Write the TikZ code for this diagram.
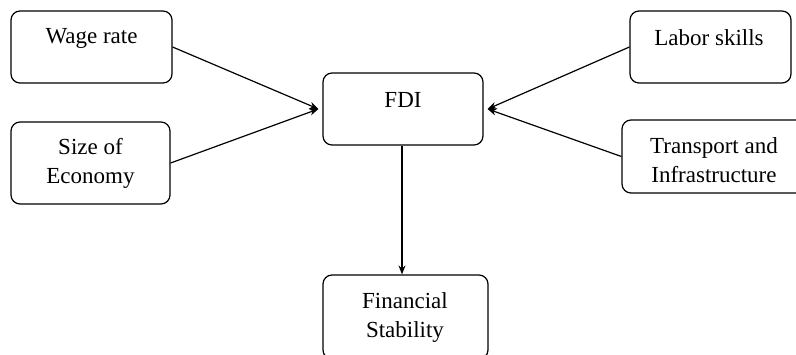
\documentclass[tikz,border=0pt]{standalone}
\usepackage{fontspec}
\setmainfont{Liberation Serif}
\usetikzlibrary{arrows.meta}
\begin{document}
\begin{tikzpicture}[x=1pt,y=-1pt,
  box/.style={draw=black, line width=1.2pt, rounded corners=9pt, inner sep=0pt},
  lbl/.style={align=center, inner sep=0pt, font=\fontsize{23}{29}\selectfont},
  link/.style={draw=black, line width=1.2pt, -{Stealth[length=9pt,width=7pt]}}]
\clip (0,0) rectangle (796,354);
% boxes
\node[box, minimum width=161pt, minimum height=72pt] (wage) at (91.5,47) {};
\node[box, minimum width=159pt, minimum height=82pt] (size) at (90.5,163) {};
\node[box, minimum width=160pt, minimum height=72pt] (fdi) at (403,109) {};
\node[box, minimum width=161pt, minimum height=72pt] (labor) at (710.5,47) {};
\node[box, minimum width=184pt, minimum height=73pt] (trans) at (714,156.5) {};
\node[box, minimum width=165pt, minimum height=84pt] (fin) at (405.5,317) {};
% labels
\node[lbl] (twage) at (91.5,38) {Wage rate};
\node[lbl] (tsize) at (90.5,163) {Size of\\Economy};
\node[lbl] (tfdi) at (403,100) {FDI};
\node[lbl] (tlabor) at (709,38) {Labor skills};
\node[lbl] (ttrans) at (714,160) {Transport and\\Infrastructure};
\node[lbl] (tfin) at (405,317) {Financial\\Stability};
% connectors
\coordinate (inL) at ([xshift=-4pt]fdi.west);
\coordinate (inR) at ([xshift=4pt]fdi.east);
\draw[link] (wage.east) -- (inL);
\draw[link] (size.east) -- (inL);
\draw[link] (labor.west) -- (inR);
\draw[link] (trans.west) -- (inR);
\draw[link] ([xshift=-1pt]fdi.south) -- ([xshift=-1pt]fdi.south |- fin.north);
\end{tikzpicture}
\end{document}
